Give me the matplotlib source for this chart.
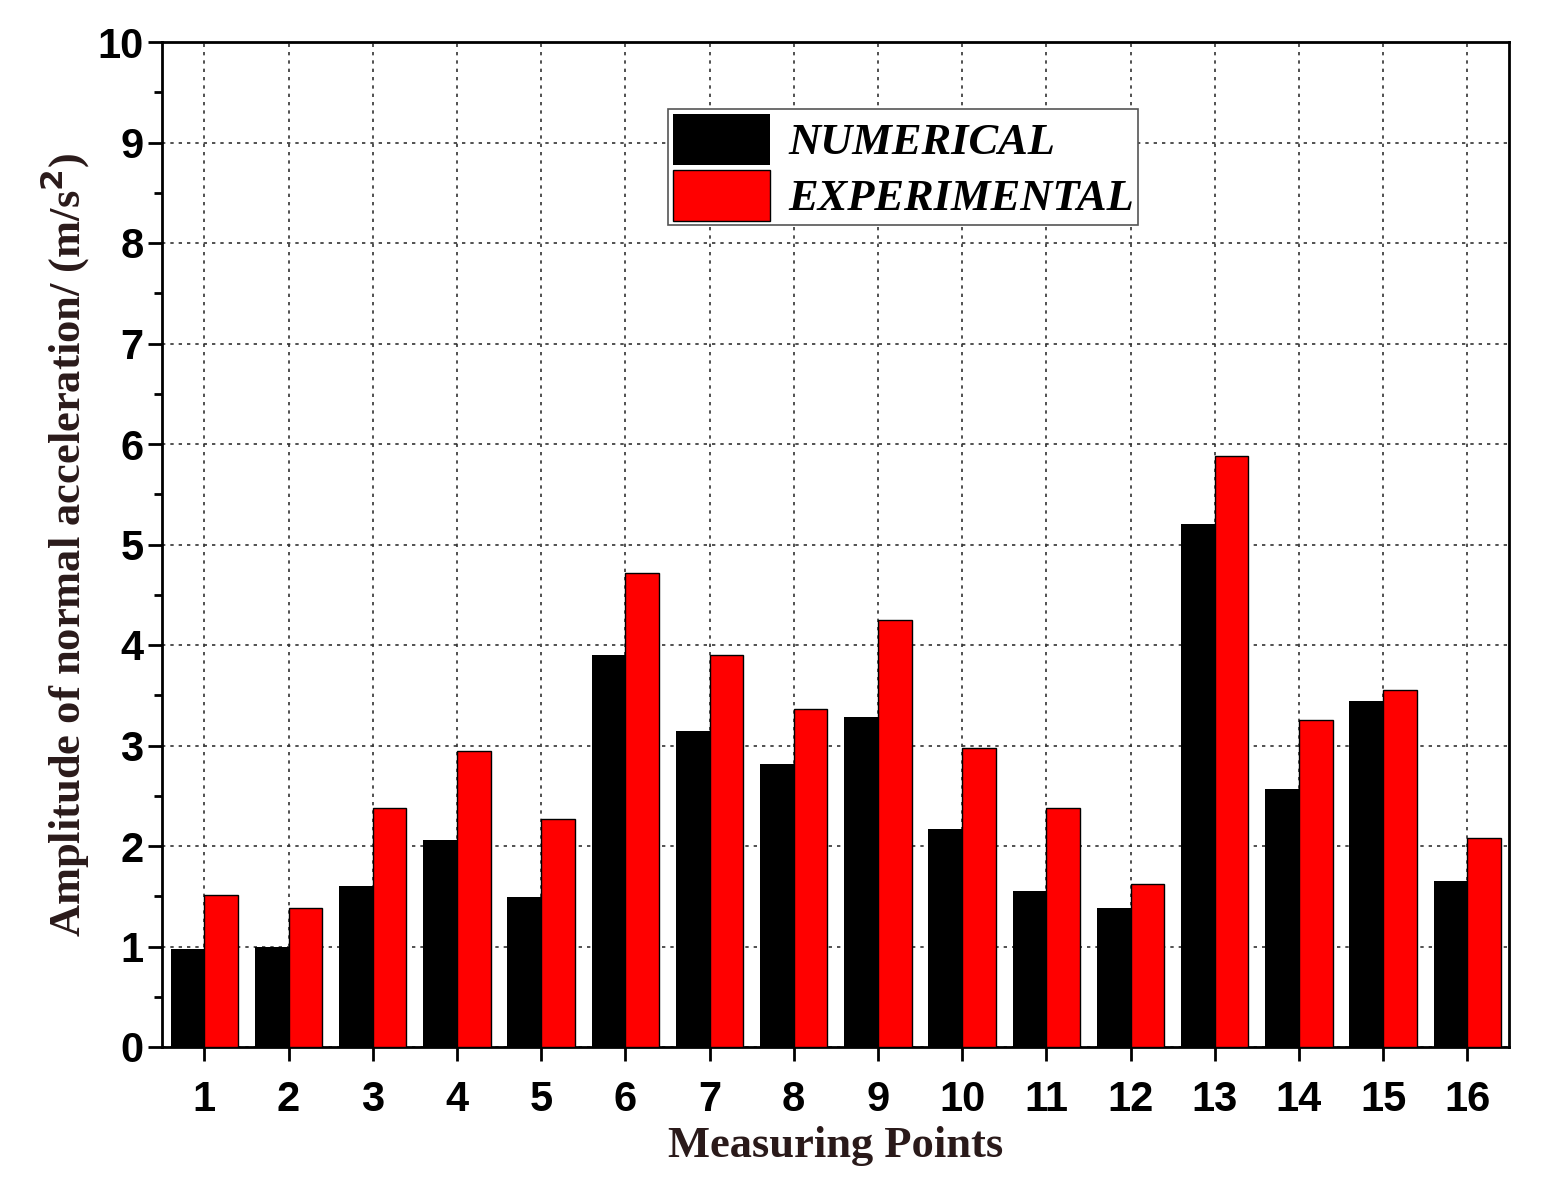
import matplotlib.pyplot as plt
import numpy as np
from matplotlib.ticker import MultipleLocator

# data
points = np.arange(1, 17)
numerical = [0.98, 1.0, 1.6, 2.06, 1.49, 3.9, 3.14, 2.82, 3.28, 2.17, 1.55, 1.38, 5.2, 2.57, 3.44, 1.65]
experimental = [1.51, 1.38, 2.38, 2.95, 2.27, 4.72, 3.9, 3.36, 4.25, 2.98, 2.38, 1.62, 5.88, 3.25, 3.55, 2.08]

plt.rcParams["font.family"] = "Liberation Serif"
plt.rcParams["font.weight"] = "bold"

fig = plt.figure(figsize=(15.45, 12), dpi=100)
ax = fig.add_axes([0.105, 0.1275, 0.872, 0.8375])

w = 0.4
ax.bar(points - w / 2, numerical, w, color="black", label="NUMERICAL", zorder=3)
ax.bar(points + w / 2, experimental, w, color="#ff0000", edgecolor="black", linewidth=1, label="EXPERIMENTAL", zorder=3)

ax.set_xlim(0.5, 16.5)
ax.set_ylim(0, 10)
ax.set_xticks(points)
ax.yaxis.set_major_locator(MultipleLocator(1))
ax.yaxis.set_minor_locator(MultipleLocator(0.5))
ax.grid(True, which="major", color="#333333", linestyle=(0, (2, 3)), linewidth=1.2, zorder=0)
ax.tick_params(axis="both", which="major", direction="out", length=10, width=2, labelsize=30)
ax.tick_params(axis="y", which="minor", direction="out", length=6, width=2)
ax.tick_params(axis="x", pad=14)
for s in ax.spines.values():
    s.set_linewidth(2)
for lbl in ax.get_xticklabels() + ax.get_yticklabels():
    lbl.set_family("Liberation Sans")
    lbl.set_fontweight("bold")

ax.set_xlabel("Measuring Points", fontsize=32, fontweight="bold", color="#2a1a1a")
ax.set_ylabel("Amplitude of normal acceleration/ (m/s$^2$)", fontsize=32, fontweight="bold", color="#2a1a1a")

leg = ax.legend(loc="upper center", bbox_to_anchor=(0.55, 0.955), fontsize=32,
                prop={"style": "italic", "weight": "bold", "size": 32},
                handlelength=2.2, handleheight=1.4, fancybox=False, edgecolor="#555555",
                borderpad=0.1, labelspacing=0.1, handletextpad=0.4, framealpha=1)
leg.get_frame().set_linewidth(1.2)

plt.savefig("out.png", dpi=100)
